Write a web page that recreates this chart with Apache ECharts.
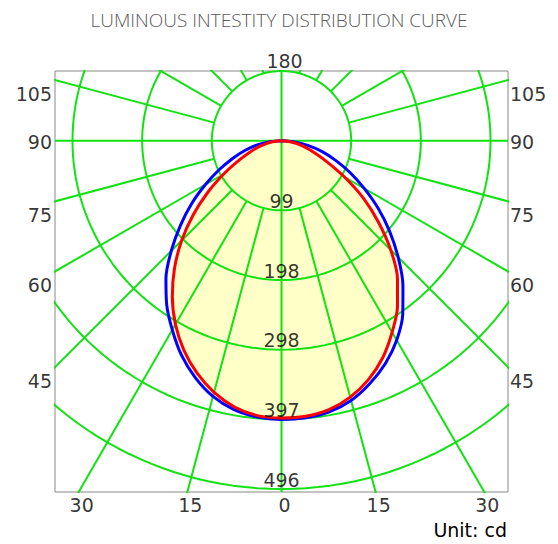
<!DOCTYPE html>
<html><head><meta charset="utf-8">
<script src="https://cdn.jsdelivr.net/npm/echarts@6/dist/echarts.min.js"></script>
<style>html,body{margin:0;padding:0;background:#fff}#c{width:558px;height:544px}</style>
</head><body><div id="c"></div>
<script>
// ---- data ----
const titleText = 'LUMINOUS INTESTITY DISTRIBUTION CURVE';
const unitText = 'Unit: cd';
const angles    = [0,5,10,15,20,25,30,35,40,45,50,55,60,65,70,75,80,85,90];
const blueLeft  = [397,395,389,377,359,337,311,285,256,222,188,156,125,98,74,54,35,16,0];
const blueRight = [397,396,392,383,368,350,328,301,269,235,201,168,136,108,82,60,38,17,0];
const redLeft   = [395,393,385,371,352,329,302,271,237,201,164,128,95,68,48,33,20,9,0];
const redRight  = [395,394,389,378,362,341,315,288,257,220,180,142,104,72,50,34,21,9,0];
const ringValues = [99.2,198.4,297.6,396.8,496];
const ringLabels = ['99','198','298','397','496'];
const lowerSpokes = [15,30,45,60,75];
const upperSpokes = [105,120,135,150,165];
const bottomTickAngles = [-30,-15,0,15,30];
const bottomTickLabels = ['30','15','0','15','30'];
const sideTickAngles = [105,90,75,60,45];
const sideTickLabels = ['105','90','75','60','45'];
const topTickLabel = '180';

// ---- layout ----
const G = {left:55, top:71, width:453, height:421};
const XMAX = 322.5;
const K = G.width / (2*XMAX);           // px per cd
const YMAX = ringValues[0];
const YMIN = YMAX - G.height / K;
const rad = d => d*Math.PI/180;
const pt = (I, deg, side) => [side*I*Math.sin(rad(deg)), -I*Math.cos(rad(deg))];

function curve(left, right){
  const out = [];
  for (let i = angles.length-1; i >= 0; i--) out.push(pt(left[i], angles[i], -1));
  for (let i = 1; i < angles.length; i++) out.push(pt(right[i], angles[i], 1));
  return out;
}
const blueCurve = curve(blueLeft, blueRight);
const redCurve = curve(redLeft, redRight);

const GREEN = '#12e212';
const gridSeries = [];
function gline(data){
  gridSeries.push({type:'line', data, symbol:'none', silent:true, animation:false, z:2,
    clip:true, lineStyle:{color:GREEN, width:2}});
}
ringValues.forEach(r => {
  const d = [];
  for (let a = 0; a <= 360; a += 2) d.push([r*Math.sin(rad(a)), -r*Math.cos(rad(a))]);
  gline(d);
});
gline([[0, YMIN],[0, YMAX]]);
gline([[-XMAX, 0],[XMAX, 0]]);
lowerSpokes.concat(upperSpokes).forEach(a => {
  [-1,1].forEach(s => gline([pt(ringValues[0], a, s), pt(2000, a, s)]));
});

const NUMFONT = {fontFamily:'DejaVu Sans', fontSize:19, color:'#000'};

const ringLabelSeries = {
  type:'scatter', symbolSize:0, silent:true, animation:false, z:6,
  data: ringValues.map((v,i) => ({value:[0, -v], label:{formatter: ringLabels[i]}})),
  label:{show:true, position:'top', distance:0, ...NUMFONT}
};
const bottomLabelSeries = {
  type:'scatter', symbolSize:0, silent:true, animation:false, z:6, clip:false,
  data: bottomTickAngles.map((a,i) => ({value:[-YMIN*Math.tan(rad(a)), YMIN], label:{formatter: bottomTickLabels[i]}})),
  label:{show:true, position:'bottom', distance:3, offset:[3,0], ...NUMFONT}
};
const sideData = [];
sideTickAngles.forEach((a,i) => {
  const y = -XMAX*Math.cos(rad(a))/Math.sin(rad(a));
  const drop = a === 90 ? 1 : 14;
  sideData.push({value:[-XMAX, y], label:{formatter: sideTickLabels[i], position:'left', distance:3, offset:[0,drop]}});
  sideData.push({value:[XMAX, y], label:{formatter: sideTickLabels[i], position:'right', distance:2, offset:[0,drop]}});
});
const sideLabelSeries = {
  type:'scatter', symbolSize:0, silent:true, animation:false, z:6, clip:false,
  data: sideData, label:{show:true, ...NUMFONT}
};
const topLabelSeries = {
  type:'scatter', symbolSize:0, silent:true, animation:false, z:6, clip:false,
  data:[{value:[0, YMAX], label:{formatter: topTickLabel}}],
  label:{show:true, position:'top', distance:1, offset:[3,0], ...NUMFONT}
};

const fillSeries = {
  type:'custom', z:1, silent:true, animation:false, data:[0],
  renderItem: (params, api) => ({
    type:'polygon',
    shape:{points: redCurve.map(p => api.coord(p)), smooth:0.3},
    style:{fill:'#ffffc8', stroke:null}
  })
};

const chart = echarts.init(document.getElementById('c'), null, {renderer:'svg'});
chart.setOption({
  backgroundColor:'#ffffff',
  animation:false,
  title:{text:titleText, left:'center', top:5,
    textStyle:{fontFamily:'Open Sans', fontWeight:300, fontSize:19, color:'#5a5a5a'}},
  grid:{...G, show:true, borderColor:'#888', borderWidth:1, backgroundColor:'transparent', containLabel:false},
  xAxis:{type:'value', min:-XMAX, max:XMAX, show:false},
  yAxis:{type:'value', min:YMIN, max:YMAX, show:false},
  graphic:[{type:'text', right:51, top:520, z:10,
    style:{text:unitText, font:'19px "DejaVu Sans"', fill:'#000'}}],
  series:[
    fillSeries,
    ...gridSeries,
    {type:'line', name:'C0-C180', data:blueCurve, symbol:'none', smooth:0.3, z:3, animation:false,
      lineStyle:{color:'#0000ff', width:3}},
    {type:'line', name:'C90-C270', data:redCurve, symbol:'none', smooth:0.3, z:4, animation:false,
      lineStyle:{color:'#ff0000', width:3}},
    ringLabelSeries, bottomLabelSeries, sideLabelSeries, topLabelSeries
  ]
});
</script></body></html>
